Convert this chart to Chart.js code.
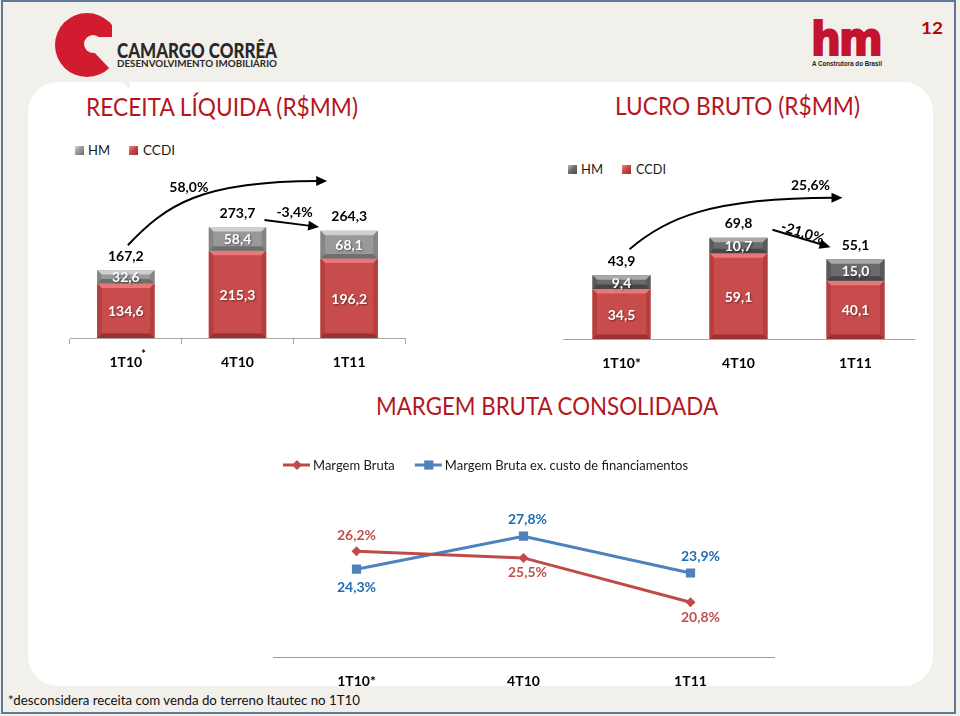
<!DOCTYPE html>
<html><head><meta charset="utf-8">
<script src="https://cdn.jsdelivr.net/npm/chart.js@4.4.1/dist/chart.umd.min.js"></script>
<style>
html,body{margin:0;padding:0;}
body{width:960px;height:716px;position:relative;overflow:hidden;background:#f2f0eb;font-family:Lato,sans-serif;}
#frame{position:absolute;left:1px;top:0;width:955px;height:714px;box-sizing:border-box;border:2px solid #5f7898;z-index:5;pointer-events:none;}
#panel{position:absolute;left:28px;top:82px;width:905px;height:604px;background:#fff;border-radius:30px;}
.t{position:absolute;white-space:nowrap;transform-origin:0 0;line-height:1;}
.title{color:#b5161e;font-size:25px;font-family:Lato,sans-serif;}
.sw{position:absolute;width:9px;height:9px;}
.swg{background:linear-gradient(135deg,#d4d4d4 0%,#9a9a9a 45%,#6e6e6e 100%);}
.swr{background:linear-gradient(135deg,#ec8a8a 0%,#c94a4a 45%,#962c2c 100%);}
canvas{position:absolute;}
</style></head>
<body>
<div id="panel"></div>
<svg style="position:absolute;left:0;top:0" width="130" height="90">
  <circle cx="87" cy="45" r="32" fill="#d01c2e"/>
  <rect x="112" y="0" width="18" height="37" fill="#f2f0eb"/>
  <polygon points="92,37 130,37 130,90 92,50" fill="#f2f0eb"/>
  <circle cx="93" cy="44" r="9" fill="#f2f0eb"/>
</svg>
<span class="t" data-x="117" data-b="58" data-w="160" style="font-size:21px;font-weight:900;color:#2b2826;">CAMARGO CORRÊA</span>
<span class="t" data-x="117" data-b="67" data-w="160" style="font-size:9.5px;font-weight:700;color:#2b2826;">DESENVOLVIMENTO IMOBILIÁRIO</span>
<span class="t" data-x="811" data-b="55" data-w="70" style="font-family:'DejaVu Sans';font-size:46px;font-weight:700;color:#c4122f;letter-spacing:-2px;-webkit-text-stroke:2px #c4122f;">hm</span>
<span class="t" data-x="812" data-b="66" data-w="70" style="font-family:'Liberation Sans';font-size:7.5px;font-weight:700;color:#222;">A Construtora do Brasil</span>
<span class="t" data-x="921" data-b="34" data-w="22" style="font-size:17px;font-weight:700;color:#c00000;">12</span>

<span class="t title" data-x="86" data-b="116" data-w="272">RECEITA LÍQUIDA (R$MM)</span>
<span class="t title" data-x="615" data-b="115" data-w="245">LUCRO BRUTO (R$MM)</span>
<span class="t title" data-x="376" data-b="415" data-w="342">MARGEM BRUTA CONSOLIDADA</span>

<div class="sw swg" style="left:75px;top:146px;"></div>
<span class="t" data-x="88" data-b="155" data-w="22" style="font-size:13.5px;color:#1a1a1a;">HM</span>
<div class="sw swr" style="left:129px;top:146px;"></div>
<span class="t" data-x="143" data-b="155" data-w="32" style="font-size:13.5px;color:#1a1a1a;">CCDI</span>

<div class="sw swg" style="left:568px;top:165px;background:linear-gradient(135deg,#b8b8b8 0%,#6e6e6e 45%,#4a4a4a 100%);"></div>
<span class="t" data-x="581" data-b="174" data-w="22" style="font-size:13.5px;color:#1a1a1a;">HM</span>
<div class="sw swr" style="left:622px;top:165px;"></div>
<span class="t" data-x="636" data-b="174" data-w="30" style="font-size:13.5px;color:#1a1a1a;">CCDI</span>

<span class="t" data-x="8" data-b="705" data-w="352" style="font-size:13px;color:#111;">*desconsidera receita com venda do terreno Itautec no 1T10</span>

<canvas id="c1" width="355" height="240" style="left:60px;top:140px;"></canvas>
<canvas id="c2" width="371" height="240" style="left:553px;top:141px;"></canvas>
<canvas id="c3" width="521" height="260" style="left:263px;top:440px;"></canvas>
<div id="frame"></div>

<script>
// ---- data ----
const categories = ['1T10*', '4T10', '1T11'];
const receitaCCDI = [134.6, 215.3, 196.2];
const receitaHM = [32.6, 58.4, 68.1];
const receitaTotal = [167.2, 273.7, 264.3];
const receitaGrowth = ['58,0%', '-3,4%'];
const lucroCCDI = [34.5, 59.1, 40.1];
const lucroHM = [9.4, 10.7, 15.0];
const lucroTotal = [43.9, 69.8, 55.1];
const lucroGrowth = ['25,6%', '-21,0%'];
const margemBruta = [26.2, 25.5, 20.8];
const margemBrutaEx = [24.3, 27.8, 23.9];

// ---- place & fit HTML text ----
function placeText() {
  document.querySelectorAll('.t').forEach(el => {
    el.style.transform = '';
    const probe = document.createElement('span');
    probe.style.cssText = 'display:inline-block;width:0;height:0;vertical-align:baseline;';
    el.appendChild(probe);
    const base = probe.offsetTop;
    el.removeChild(probe);
    el.style.left = el.dataset.x + 'px';
    el.style.top = (parseFloat(el.dataset.b) - base) + 'px';
    const w = el.getBoundingClientRect().width;
    if (el.dataset.w && w > 0) el.style.transform = 'scaleX(' + (parseFloat(el.dataset.w) / w) + ')';
  });
}
placeText();

// ---- helpers ----
const fmt = v => v.toFixed(1).replace('.', ',');
Chart.defaults.font.family = 'Lato';
const BOLD14 = 'bold 14px Lato';

function P(chart, i, v, dx, dy) {
  return [chart.scales.x.getPixelForValue(i) + dx, chart.scales.y.getPixelForValue(v) + dy];
}
function head(ctx, x, y, ang) {
  const L = 11, W = 5;
  ctx.beginPath();
  ctx.moveTo(x, y);
  ctx.lineTo(x - L * Math.cos(ang) + W * Math.sin(ang), y - L * Math.sin(ang) - W * Math.cos(ang));
  ctx.lineTo(x - L * Math.cos(ang) - W * Math.sin(ang), y - L * Math.sin(ang) + W * Math.cos(ang));
  ctx.closePath();
  ctx.fill();
}
function curveArrow(ctx, s, c1, c2, e) {
  const ang = Math.atan2(e[1] - c2[1], e[0] - c2[0]);
  ctx.beginPath();
  ctx.moveTo(s[0], s[1]);
  ctx.bezierCurveTo(c1[0], c1[1], c2[0], c2[1], e[0] - 9 * Math.cos(ang), e[1] - 9 * Math.sin(ang));
  ctx.stroke();
  head(ctx, e[0], e[1], ang);
}
function lineArrow(ctx, s, e) {
  const ang = Math.atan2(e[1] - s[1], e[0] - s[0]);
  ctx.beginPath();
  ctx.moveTo(s[0], s[1]);
  ctx.lineTo(e[0] - 9 * Math.cos(ang), e[1] - 9 * Math.sin(ang));
  ctx.stroke();
  head(ctx, e[0], e[1], ang);
}
function text(ctx, str, x, y, rot) {
  ctx.save();
  ctx.translate(x, y);
  if (rot) ctx.rotate(rot);
  ctx.fillText(str, 0, 0);
  ctx.restore();
}
function poly(ctx, pts, col) {
  ctx.fillStyle = col; ctx.beginPath();
  ctx.moveTo(pts[0][0], pts[0][1]);
  for (let k = 1; k < pts.length; k++) ctx.lineTo(pts[k][0], pts[k][1]);
  ctx.closePath(); ctx.fill();
}

function makeBarPlugin(opt) {
  return {
    id: 'barExtras',
    afterDatasetsDraw(chart) {
      const ctx = chart.ctx;
      ctx.save();
      // bevels
      chart.data.datasets.forEach((ds, di) => {
        const c = opt.bevel[di];
        chart.getDatasetMeta(di).data.forEach(el => {
          const l = el.x - el.width / 2, r = el.x + el.width / 2, t = el.y, b = el.base;
          const bv = Math.min(4.5, (b - t) / 3);
          poly(ctx, [[l, t], [r, t], [r - bv, t + bv], [l + bv, t + bv]], c.top);
          poly(ctx, [[l, t], [l + bv, t + bv], [l + bv, b - bv], [l, b]], c.side);
          poly(ctx, [[r, t], [r - bv, t + bv], [r - bv, b - bv], [r, b]], c.side);
          poly(ctx, [[l, b], [l + bv, b - bv], [r - bv, b - bv], [r, b]], c.bottom);
        });
      });
      ctx.font = BOLD14;
      ctx.textAlign = 'center';
      ctx.textBaseline = 'middle';
      // segment values
      chart.data.datasets.forEach((ds, di) => {
        chart.getDatasetMeta(di).data.forEach((el, i) => {
          ctx.save();
          ctx.shadowColor = 'rgba(0,0,0,0.45)';
          ctx.shadowBlur = 2; ctx.shadowOffsetX = 1; ctx.shadowOffsetY = 1;
          ctx.fillStyle = '#ffffff';
          ctx.fillText(fmt(ds.data[i]), el.x, (el.y + el.base) / 2 + 1);
          ctx.restore();
        });
      });
      // totals
      const top = chart.getDatasetMeta(1).data;
      ctx.fillStyle = '#000';
      opt.totals.forEach((v, i) => ctx.fillText(fmt(v), top[i].x, top[i].y - 14));
      // arrows
      ctx.strokeStyle = '#000';
      ctx.fillStyle = '#000';
      ctx.lineWidth = 2;
      opt.annot(chart, ctx);
      // superscript asterisk on first tick label
      if (opt.superStar) {
        const xs = chart.scales.x;
        ctx.font = 'bold 14px Lato';
        const w = ctx.measureText('1T10').width;
        ctx.font = 'bold 11px Lato';
        ctx.textAlign = 'left';
        ctx.fillText('*', xs.getPixelForValue(0) + w / 2 - 1, xs.top + 16);
      }
      ctx.restore();
    }
  };
}

function barChart(id, ccdi, hm, opt) {
  return new Chart(document.getElementById(id), {
    type: 'bar',
    data: {
      labels: categories,
      datasets: [
        { label: 'CCDI', data: ccdi, backgroundColor: '#c94c4c', stack: 's' },
        { label: 'HM', data: hm, backgroundColor: opt.gray, stack: 's' }
      ]
    },
    options: {
      responsive: false, animation: false, devicePixelRatio: 1,
      layout: { padding: { left: 10, right: 10, top: 20, bottom: 0 } },
      datasets: { bar: { categoryPercentage: 1, barPercentage: opt.barPct, borderWidth: 0 } },
      plugins: { legend: { display: false }, tooltip: { enabled: false } },
      scales: {
        x: {
          stacked: true,
          grid: { display: true, drawOnChartArea: false, drawTicks: opt.tickMarks, tickLength: 6, color: '#a6a6a6' },
          border: { display: true, color: '#a6a6a6', width: 1 },
          ticks: {
            padding: opt.tickPad, color: '#000', font: { family: 'Lato', weight: 'bold', size: 14 },
            callback: (v, i) => opt.superStar ? categories[i].replace('*', '') : categories[i]
          },
          afterFit: s => { s.height = 42; }
        },
        y: { stacked: true, display: false, min: 0, max: opt.max }
      }
    },
    plugins: [makeBarPlugin(opt)]
  });
}

barChart('c1', receitaCCDI, receitaHM, {
  gray: '#999999', barPct: 0.514, max: 439, tickMarks: true, tickPad: 10, superStar: true,
  totals: receitaTotal,
  bevel: [{ top: '#e87878', side: '#b43f3f', bottom: '#9a3030' }, { top: '#cfcfcf', side: '#858585', bottom: '#6f6f6f' }],
  annot(chart, ctx) {
    const t = receitaTotal;
    curveArrow(ctx, P(chart, 0, t[0], 2, -25), P(chart, 0, t[1], 40, -22), P(chart, 0, t[1], 75, -46), P(chart, 2, t[1], -22, -46));
    lineArrow(ctx, P(chart, 1, t[1], 27, -7), P(chart, 2, t[1], -30, 0));
    ctx.font = BOLD14;
    const a = P(chart, 0, t[1], 63, -40); text(ctx, receitaGrowth[0], a[0], a[1]);
    const b = P(chart, 1, t[1], 57, -15); text(ctx, receitaGrowth[1], b[0], b[1]);
  }
});

barChart('c2', lucroCCDI, lucroHM, {
  gray: '#6b6b6b', barPct: 0.496, max: 122.8, tickMarks: false, tickPad: 16, superStar: false,
  totals: lucroTotal,
  bevel: [{ top: '#e87878', side: '#b43f3f', bottom: '#9a3030' }, { top: '#a9a9a9', side: '#5a5a5a', bottom: '#474747' }],
  annot(chart, ctx) {
    const t = lucroTotal;
    curveArrow(ctx, P(chart, 0, t[0], 8, -26), P(chart, 0, t[1], 43, -19), P(chart, 0, t[1], 88, -40), P(chart, 2, t[1], -13, -40));
    lineArrow(ctx, P(chart, 1, t[1], 34, -8), P(chart, 2, t[2], -25, -12));
    ctx.font = BOLD14;
    const a = P(chart, 2, t[1], -45, -52); text(ctx, lucroGrowth[0], a[0], a[1]);
    const b = P(chart, 1, t[1], 64, -5); text(ctx, lucroGrowth[1], b[0], b[1], 0.30);
  }
});

// ---- line chart ----
const RED = '#be4b48', BLUE = '#4f81bd';
const redLabelPos = [-16, 15, 15];
const blueLabelPos = [18, -17, -17];
const labelDx = [0, 4, 10];

const lineExtras = {
  id: 'lineExtras',
  afterDatasetsDraw(chart) {
    const ctx = chart.ctx;
    ctx.save();
    ctx.font = BOLD14;
    ctx.textAlign = 'center';
    ctx.textBaseline = 'middle';
    const specs = [['#c0504d', redLabelPos], ['#1f6db3', blueLabelPos]];
    chart.data.datasets.forEach((ds, di) => {
      ctx.fillStyle = specs[di][0];
      chart.getDatasetMeta(di).data.forEach((pt, i) => {
        ctx.fillText(fmt(ds.data[i]) + '%', pt.x + labelDx[i], pt.y + specs[di][1][i]);
      });
    });
    // legend
    const items = [[RED, 'rectRot', 5], [BLUE, 'rect', 6.5]];
    let x = 20;
    const y = 25;
    ctx.textAlign = 'left';
    ctx.font = '13px Lato';
    chart.data.datasets.forEach((ds, di) => {
      const [col, ps, r] = items[di];
      ctx.strokeStyle = col; ctx.fillStyle = col; ctx.lineWidth = 3;
      ctx.beginPath(); ctx.moveTo(x, y); ctx.lineTo(x + 27, y); ctx.stroke();
      Chart.helpers.drawPoint(ctx, { pointStyle: ps, radius: r, borderWidth: 0, rotation: 0 }, x + 14, y);
      ctx.fillStyle = '#1a1a1a';
      ctx.fillText(ds.label, x + 30, y + 1);
      x += 30 + ctx.measureText(ds.label).width + 20;
    });
    ctx.restore();
  }
};

new Chart(document.getElementById('c3'), {
  type: 'line',
  data: {
    labels: categories,
    datasets: [
      { label: 'Margem Bruta', data: margemBruta, borderColor: RED, backgroundColor: RED, borderWidth: 3,
        pointStyle: 'rectRot', pointRadius: 5, pointBorderWidth: 0, tension: 0 },
      { label: 'Margem Bruta ex. custo de financiamentos', data: margemBrutaEx, borderColor: BLUE, backgroundColor: BLUE, borderWidth: 3,
        pointStyle: 'rect', pointRadius: 6.5, pointBorderWidth: 0, tension: 0 }
    ]
  },
  options: {
    responsive: false, animation: false, devicePixelRatio: 1,
    layout: { padding: { left: 10, right: 10, top: 52, bottom: 0 } },
    plugins: { legend: { display: false }, tooltip: { enabled: false } },
    scales: {
      x: {
        offset: true,
        grid: { display: true, drawOnChartArea: false, drawTicks: false },
        border: { display: true, color: '#9a9a9a', width: 1 },
        ticks: { padding: 16, color: '#000', font: { family: 'Lato', weight: 'bold', size: 14 } },
        afterFit: s => { s.height = 43; }
      },
      y: { display: false, min: 15, max: 32.48 }
    }
  },
  plugins: [lineExtras]
});
</script>
</body></html>
